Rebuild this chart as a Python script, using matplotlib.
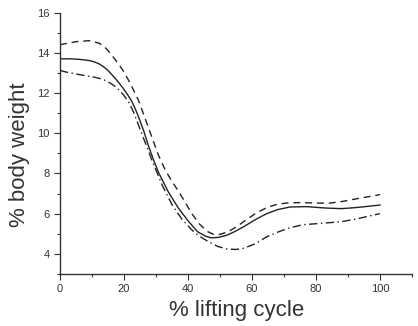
import matplotlib
matplotlib.use("Agg")
import matplotlib.pyplot as plt
from matplotlib.ticker import MultipleLocator

plt.rcParams['font.family'] = ['Liberation Sans', 'DejaVu Sans']

# solid line
x_solid = [0, 3, 5.5, 8, 9.6, 11, 12.2, 13.5, 14.8, 16, 17.3, 18.6, 19.9, 21.2, 22.5, 23.5, 24.6, 26.2, 27.7, 29.3, 30.8, 33.8, 36.9, 40, 43, 45.5, 47.2, 49.5, 52, 54.5, 57.4, 61, 64.6, 68, 71.8, 77, 83, 88, 92.3, 96, 100]
y_solid = [13.7, 13.7, 13.68, 13.64, 13.6, 13.53, 13.45, 13.32, 13.15, 12.95, 12.72, 12.47, 12.2, 11.9, 11.57, 11.22, 10.8, 10.1, 9.35, 8.65, 8.05, 7.1, 6.3, 5.65, 5.1, 4.88, 4.8, 4.82, 4.92, 5.1, 5.35, 5.7, 6.0, 6.2, 6.33, 6.35, 6.28, 6.25, 6.3, 6.36, 6.43]

# dashed line
x_dash = [0, 2.5, 5.5, 9.1, 12.2, 13.5, 14.8, 16, 17.3, 18.6, 19.9, 21.2, 22.5, 24.5, 26, 27.7, 29.3, 30.8, 32.8, 34.8, 36.9, 39, 41, 43.5, 46, 48, 50, 52.5, 55, 57.4, 61, 64.6, 67.5, 70.8, 75, 80, 84, 88, 93, 98.5, 100]
y_dash = [14.4, 14.48, 14.56, 14.6, 14.48, 14.35, 14.15, 13.92, 13.65, 13.37, 13.07, 12.7, 12.3, 11.65, 11.0, 10.25, 9.55, 8.9, 8.2, 7.65, 7.15, 6.6, 6.05, 5.5, 5.12, 4.97, 4.97, 5.1, 5.33, 5.6, 6.0, 6.3, 6.45, 6.53, 6.55, 6.53, 6.52, 6.6, 6.75, 6.9, 6.95]

# dash-dot line
x_dd = [0, 2.5, 5.5, 8, 10.7, 13, 14.8, 16.3, 17.8, 19.9, 21.4, 23, 26, 29, 32, 35, 38, 41, 43, 45, 47.2, 49.5, 52.3, 55, 57.4, 61, 64.6, 68, 71.8, 76, 80, 84, 88, 93, 98.5, 100]
y_dd = [13.12, 13.02, 12.93, 12.86, 12.79, 12.7, 12.58, 12.43, 12.25, 11.9, 11.57, 11.05, 9.8, 8.55, 7.4, 6.45, 5.75, 5.22, 4.95, 4.74, 4.54, 4.36, 4.24, 4.22, 4.28, 4.5, 4.85, 5.08, 5.3, 5.45, 5.5, 5.55, 5.6, 5.75, 5.95, 6.0]

xticks = [0, 20, 40, 60, 80, 100]
yticks = [4, 6, 8, 10, 12, 14, 16]

fig = plt.figure(figsize=(4.18, 3.26), dpi=100)
ax = fig.add_axes([0.1435, 0.1595, 0.842, 0.802])

ax.plot(x_solid, y_solid, color='#222222', lw=1.0, ls='-')
ax.plot(x_dash, y_dash, color='#222222', lw=1.0, ls=(0, (5, 3.5)))
ax.plot(x_dd, y_dd, color='#222222', lw=1.0, ls=(0, (6, 2.5, 1, 2.5)))

ax.set_xlim(0, 110)
ax.set_ylim(3, 16)
ax.set_xticks(xticks)
ax.set_yticks(yticks)
ax.xaxis.set_minor_locator(MultipleLocator(10))
ax.yaxis.set_minor_locator(MultipleLocator(1))
ax.spines['top'].set_visible(False)
ax.spines['right'].set_visible(False)
for s in ['left', 'bottom']:
    ax.spines[s].set_color('#333333')
    ax.spines[s].set_linewidth(1.0)
ax.tick_params(which='major', direction='out', length=4, width=0.8, colors='#333333', labelsize=8, labelcolor='#333333')
ax.tick_params(which='minor', direction='out', length=2.5, width=0.8, colors='#333333')

ax.set_xlabel('% lifting cycle', fontsize=16, color='#333333')
ax.set_ylabel('% body weight', fontsize=16, color='#333333')
ax.xaxis.set_label_coords(0.501, -0.1)
ax.yaxis.set_label_coords(-0.085, 0.455)

fig.savefig('out.png', dpi=100)
